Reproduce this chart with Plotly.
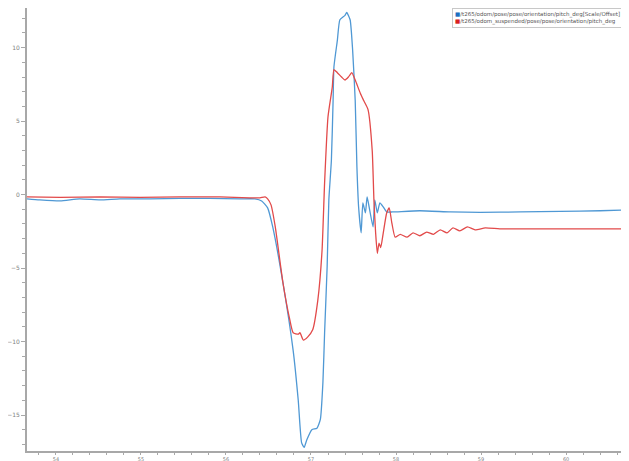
import plotly.graph_objects as go

# Blue series: /t265/odom/pose/pose/orientation/pitch_deg[Scale/Offset]
blue_t = [53.66, 53.81, 54.05, 54.28, 54.52, 54.75, 55.11, 55.46, 55.81, 56.16, 56.34, 56.42, 56.49,
          56.55, 56.67, 56.79, 56.85, 56.89, 56.92, 56.95, 57.01, 57.07, 57.11, 57.14, 57.16, 57.19,
          57.21, 57.24, 57.26, 57.27, 57.31, 57.34, 57.40, 57.42, 57.46, 57.49, 57.52, 57.54, 57.56,
          57.59, 57.61, 57.64, 57.66, 57.69, 57.73, 57.75, 57.78, 57.81, 57.85, 57.89, 57.96, 58.28,
          58.64, 58.99, 59.46, 59.93, 60.40, 60.74]
blue_v = [-0.29, -0.36, -0.43, -0.29, -0.36, -0.29, -0.29, -0.26, -0.26, -0.29, -0.29, -0.43, -0.9,
          -2.2, -6.0, -10.6, -14.0, -16.9, -17.2, -16.7, -16.0, -15.9, -15.3, -12.8, -9.4, -4.9,
          -0.36, 2.35, 6.4, 8.7, 10.5, 11.9, 12.2, 12.4, 11.9, 9.8, 6.4, 1.9, -0.84,
          -2.6, -0.56, -1.25, -0.16, -1.04, -2.2, -0.36, -1.25, -0.56, -0.84, -1.18, -1.18, -1.1,
          -1.18, -1.21, -1.18, -1.14, -1.1, -1.04]

# Red series: /t265/odom_suspended/pose/pose/orientation/pitch_deg
red_t = [53.66, 54.05, 54.52, 54.99, 55.46, 55.93, 56.28, 56.40, 56.46, 56.49, 56.53, 56.58, 56.67,
         56.75, 56.79, 56.85, 56.87, 56.91, 56.96, 57.02, 57.08, 57.13, 57.16, 57.20, 57.25, 57.27,
         57.31, 57.36, 57.40, 57.44, 57.48, 57.52, 57.58, 57.62, 57.67, 57.72, 57.74, 57.76, 57.78,
         57.80, 57.82, 57.85, 57.89, 57.92, 57.95, 57.99, 58.05, 58.13, 58.20, 58.28, 58.36, 58.44,
         58.52, 58.60, 58.67, 58.75, 58.84, 58.93, 59.05, 59.22, 59.58, 60.05, 60.74]
red_v = [-0.16, -0.19, -0.16, -0.19, -0.16, -0.16, -0.22, -0.22, -0.16, -0.29, -0.7, -2.2, -6.0,
         -8.5, -9.4, -9.5, -9.4, -9.9, -9.7, -9.2, -7.2, -3.8, 0.8, 5.3, 7.3, 8.5,
         8.3, 8.0, 7.8, 8.0, 8.3, 7.8, 6.9, 6.4, 5.8, 3.0, -0.36, -2.6, -4.0,
         -3.3, -3.6, -2.6, -1.25, -0.9, -1.9, -2.9, -2.7, -2.9, -2.6, -2.8, -2.55, -2.7,
         -2.4, -2.6, -2.27, -2.47, -2.2, -2.4, -2.27, -2.33, -2.33, -2.33, -2.33]

x_ticks = [54, 55, 56, 57, 58, 59, 60]
y_ticks = [-15, -10, -5, 0, 5, 10]

blue_name = "/t265/odom/pose/pose/orientation/pitch_deg[Scale/Offset]"
red_name = "/t265/odom_suspended/pose/pose/orientation/pitch_deg"
blue_col = "#4f98d4"
red_col = "#e24a4a"

fig = go.Figure()
fig.add_trace(go.Scatter(x=blue_t, y=blue_v, mode="lines", name=blue_name,
                         line=dict(color=blue_col, width=1.3, shape="spline", smoothing=0.5),
                         showlegend=False))
fig.add_trace(go.Scatter(x=red_t, y=red_v, mode="lines", name=red_name,
                         line=dict(color=red_col, width=1.3, shape="spline", smoothing=0.5),
                         showlegend=False))

legend_text = ('<span style="color:#1f6fc0">■</span>' + blue_name + '<br>'
               '<span style="color:#d82020">■</span>' + red_name)
fig.add_annotation(xref="paper", yref="paper", x=0.99, y=1.0, xanchor="right", yanchor="top",
                   text=legend_text, showarrow=False, align="left",
                   font=dict(size=5.5, color="#555555", family="DejaVu Sans"),
                   bgcolor="white", bordercolor="#c8c8c8", borderwidth=1, borderpad=2)

axis_common = dict(showgrid=False, zeroline=False, showline=True, linecolor="#a8a8a8", linewidth=2,
                   ticks="outside", tickcolor="#a8a8a8", tickwidth=1,
                   tickfont=dict(size=6, color="#808080", family="DejaVu Sans"))

fig.update_layout(
    width=621, height=453,
    margin=dict(l=19, r=0, t=0, b=10),
    paper_bgcolor="white", plot_bgcolor="white",
    xaxis=dict(range=[53.66, 60.74], tickvals=x_ticks, automargin=False, ticklen=2,
               minor=dict(dtick=0.2, ticks="outside", ticklen=2, tickcolor="#a8a8a8"),
               **axis_common),
    yaxis=dict(range=[-17.45, 12.7], tickvals=y_ticks, automargin=False, ticklen=4,
               minor=dict(dtick=1, ticks="outside", ticklen=3, tickcolor="#a8a8a8"),
               **axis_common),
)
fig.update_xaxes(tickfont=dict(size=5))

fig.write_html("out.html")
